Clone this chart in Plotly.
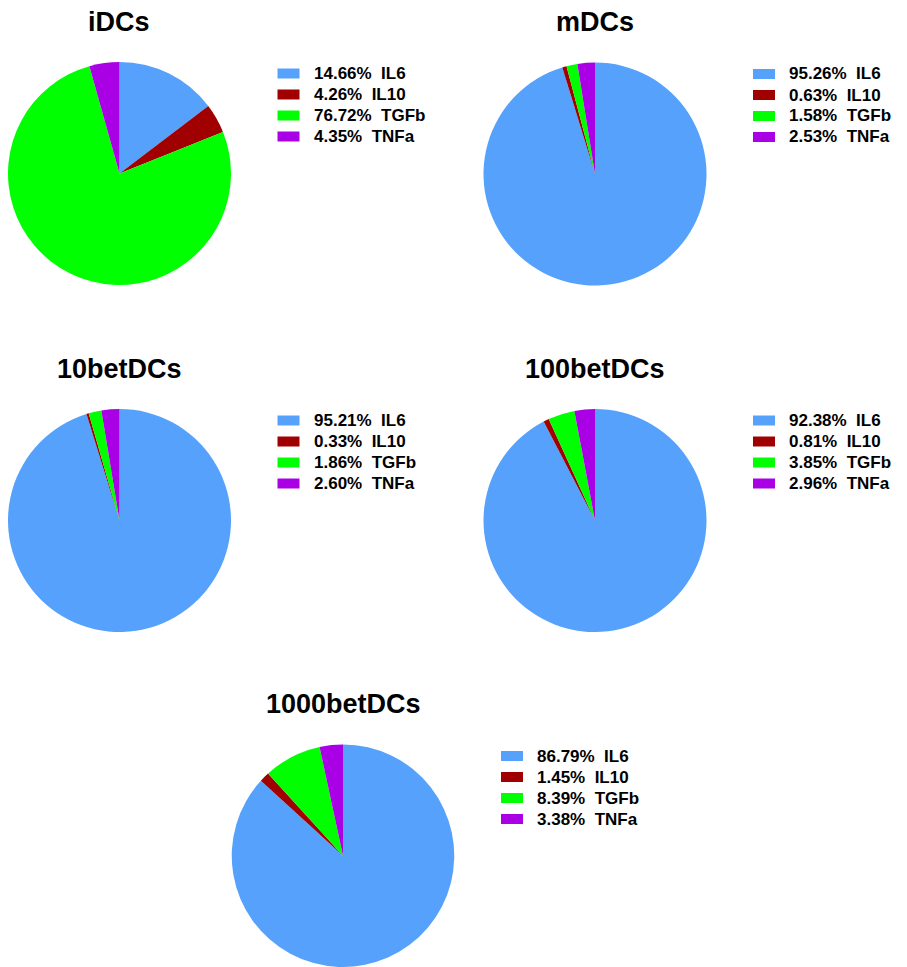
import plotly.graph_objects as go

# Cytokine share (%) per dendritic-cell group
groups = ["iDCs", "mDCs", "10betDCs", "100betDCs", "1000betDCs"]
cytokines = ["IL6", "IL10", "TGFb", "TNFa"]
idcs = [14.66, 4.26, 76.72, 4.35]
mdcs = [95.26, 0.63, 1.58, 2.53]
bet10 = [95.21, 0.33, 1.86, 2.60]
bet100 = [92.38, 0.81, 3.85, 2.96]
bet1000 = [86.79, 1.45, 8.39, 3.38]
values = [idcs, mdcs, bet10, bet100, bet1000]

colors = ["#55A1FB", "#A00000", "#00FF00", "#AA00E6"]

# page geometry (pixels)
W, H = 907, 967
R = 111.5
centers = [(119.5, 173.5), (595, 174), (119.5, 520.5), (595, 520.5), (343, 856)]

FONT = "Liberation Sans, Arial, sans-serif"

fig = go.Figure()
shapes = []
annotations = []


def px_x(x):
    return min(1.0, max(0.0, x / W))


def px_y(y):
    return min(1.0, max(0.0, 1 - y / H))


for name, vals, (cx, cy) in zip(groups, values, centers):
    fig.add_trace(go.Pie(
        labels=cytokines,
        values=vals,
        sort=False,
        direction="clockwise",
        rotation=0,
        textinfo="none",
        hoverinfo="label+percent",
        showlegend=False,
        marker=dict(colors=colors, line=dict(width=0)),
        domain=dict(x=[px_x(cx - R), px_x(cx + R)],
                    y=[px_y(cy + R), px_y(cy - R)]),
    ))
    # group title
    annotations.append(dict(
        text=f"<b>{name}</b>", x=px_x(cx), y=px_y(cy - 152),
        xref="paper", yref="paper", xanchor="center", yanchor="middle",
        showarrow=False, font=dict(family=FONT, size=27, color="#000000"),
    ))
    # per-pie key: swatch + value label
    for i, (lab, v) in enumerate(zip(cytokines, vals)):
        ry = cy - 100 + i * 21
        shapes.append(dict(
            type="rect", xref="paper", yref="paper",
            x0=px_x(cx + 158), x1=px_x(cx + 180),
            y0=px_y(ry + 5), y1=px_y(ry - 5),
            fillcolor=colors[i], line=dict(width=0),
        ))
        annotations.append(dict(
            text=f"<b>{v:.2f}%  {lab}</b>", x=px_x(cx + 192), y=px_y(ry),
            xref="paper", yref="paper", xanchor="left", yanchor="middle",
            showarrow=False, font=dict(family=FONT, size=17, color="#000000"),
        ))

fig.update_layout(
    width=W, height=H,
    margin=dict(l=0, r=0, t=0, b=0),
    paper_bgcolor="white",
    plot_bgcolor="white",
    shapes=shapes,
    annotations=annotations,
    showlegend=False,
)

fig.write_html("out.html")
